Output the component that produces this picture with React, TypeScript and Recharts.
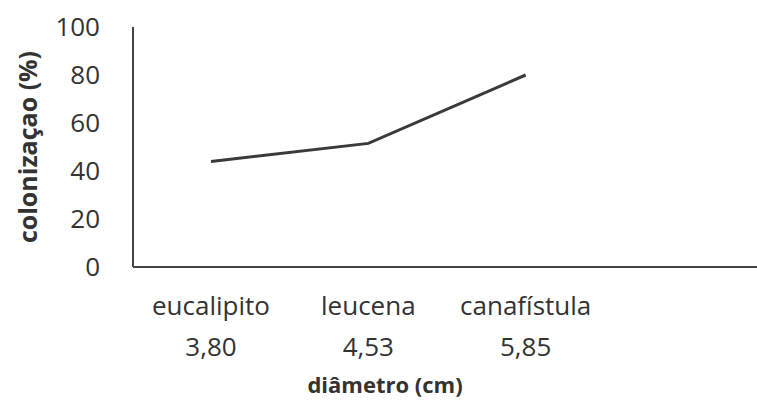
import React from "react";
import { LineChart, Line, XAxis, YAxis, Label } from "recharts";

const especies = ["eucalipito", "leucena", "canafístula", ""];
const diametros = ["3,80", "4,53", "5,85", ""];
const colonizacao = [44, 51.5, 80, null];
const yTicks = [0, 20, 40, 60, 80, 100];

const data = especies.map((name, i) => ({
    name,
    diam: diametros[i],
    value: colonizacao[i],
}));

const FONT = "'Open Sans', sans-serif";
const TEXT_COLOR = "#333333";

const TwoLineTick = (props: any) => {
    const { x, y, payload, index } = props;
    return (
        <g>
            <text x={x} y={y + 40} textAnchor="middle" fontFamily={FONT} fontSize={26} fill={TEXT_COLOR}>
                {payload.value}
            </text>
            <text x={x} y={y + 81} textAnchor="middle" fontFamily={FONT} fontSize={26} fill={TEXT_COLOR}>
                {data[index]?.diam}
            </text>
        </g>
    );
};

const XTitle = (props: any) => {
    const { viewBox } = props;
    return (
        <text
            x={viewBox.x + 252}
            y={viewBox.y + 126}
            textAnchor="middle"
            fontFamily={FONT}
            fontSize={22}
            fontWeight="bold"
            fill={TEXT_COLOR}
        >
            diâmetro (cm)
        </text>
    );
};

export default function App() {
    return (
        <div style={{ position: "absolute", left: 0, top: 0, background: "#fff" }}>
            <LineChart width={757} height={407} data={data} margin={{ top: 27, right: 0, bottom: 0, left: 0 }}>
                <XAxis
                    dataKey="name"
                    axisLine={{ stroke: "#444", strokeWidth: 2 }}
                    tickLine={false}
                    tick={<TwoLineTick />}
                    interval={0}
                    height={140}
                    padding={{ left: 78, right: 74 }}
                >
                    <Label content={<XTitle />} />
                </XAxis>
                <YAxis
                    domain={[0, 100]}
                    ticks={yTicks}
                    width={133}
                    axisLine={{ stroke: "#444", strokeWidth: 2 }}
                    tickLine={false}
                    tickSize={0}
                    tickMargin={33}
                    tick={{ fontFamily: FONT, fontSize: 26, fill: TEXT_COLOR }}
                >
                    <Label
                        value="colonizaçao (%)"
                        angle={-90}
                        position="insideLeft"
                        offset={28}
                        style={{ fontFamily: FONT, fontSize: 25, fontWeight: "bold", fill: TEXT_COLOR, textAnchor: "middle" }}
                    />
                </YAxis>
                <Line
                    type="linear"
                    dataKey="value"
                    stroke="#3a3a3a"
                    strokeWidth={3}
                    dot={false}
                    activeDot={false}
                    isAnimationActive={false}
                />
            </LineChart>
        </div>
    );
}
